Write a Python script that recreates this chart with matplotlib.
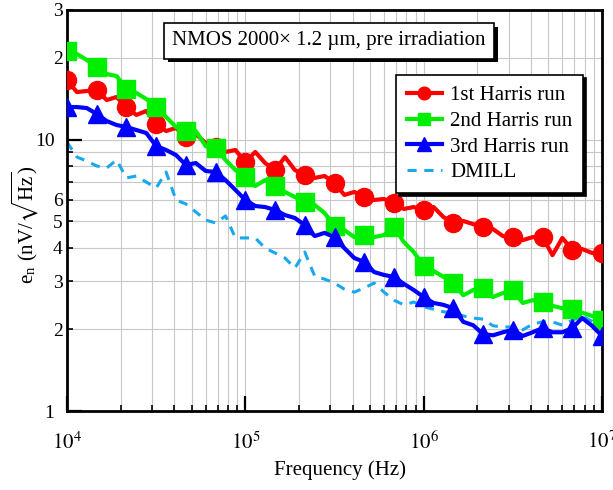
import matplotlib
matplotlib.use('Agg')
import matplotlib.pyplot as plt
from matplotlib.ticker import FixedLocator, FixedFormatter, NullFormatter, LogLocator
import matplotlib.patheffects as pe

plt.rcParams['font.family'] = ['Liberation Serif', 'DejaVu Serif']
plt.rcParams['mathtext.fontset'] = 'stix'

# frequency grid: 18 points per decade, 10 kHz .. 10 MHz
mantissa = [1.0, 1.1365, 1.2915, 1.4678, 1.6681, 1.8957, 2.1544, 2.4484, 2.7826,
            3.1623, 3.5938, 4.0842, 4.6416, 5.2749, 5.9948, 6.8129, 7.7426, 8.7992]
decades = [1e4, 1e5, 1e6]
freq = [m * d for d in decades for m in mantissa] + [1e7]

run1 = [16.57, 14.96, 15.09, 15.22, 13.98, 14.34, 13.17, 12.32, 12.74,
        11.41, 10.75, 11.03, 10.22, 10.48, 9.71, 9.38, 9.00, 9.15,
        8.26, 9.00, 8.19, 7.72, 8.62, 7.72, 7.40, 7.22, 7.34,
        6.92, 6.25, 6.41, 6.14, 5.99, 6.04, 5.84, 5.55, 5.64,
        5.50, 5.64, 5.18, 4.93, 5.01, 4.88, 4.76, 4.68, 4.41,
        4.37, 4.26, 4.37, 4.37, 3.75, 4.34, 3.92, 3.95, 3.82, 3.82]

run2 = [21.18, 20.65, 19.63, 18.50, 17.43, 17.14, 15.35, 14.84, 14.10,
        13.17, 12.11, 11.12, 10.75, 10.75, 9.46, 9.30, 8.41, 7.72,
        7.28, 6.74, 7.09, 6.74, 6.41, 6.14, 5.89, 5.74, 5.36,
        4.80, 4.64, 4.37, 4.45, 4.37, 4.45, 4.76, 4.19, 3.85,
        3.42, 3.28, 3.12, 2.96, 2.67, 2.79, 2.84, 2.63, 2.72,
        2.79, 2.50, 2.56, 2.52, 2.44, 2.39, 2.37, 2.30, 2.24, 2.16]

run3 = [13.17, 13.17, 13.06, 12.42, 11.70, 11.31, 11.12, 10.84, 10.57,
        9.46, 9.15, 8.77, 8.06, 8.19, 7.66, 7.59, 7.09, 6.52,
        5.99, 5.69, 5.64, 5.50, 5.27, 5.14, 4.84, 4.41, 4.53,
        4.37, 3.98, 3.66, 3.54, 3.25, 3.17, 3.12, 2.94, 2.79,
        2.63, 2.50, 2.46, 2.39, 2.13, 2.07, 1.92, 1.90, 1.95,
        1.99, 1.89, 1.95, 2.02, 1.95, 1.95, 2.02, 2.20, 2.06, 1.89]

dmill = [9.79, 8.62, 8.33, 7.99, 7.85, 8.41, 7.22, 7.34, 6.97, 6.63,
         7.59, 5.99, 5.79, 5.41, 5.05, 4.93, 5.23, 4.34, 4.34, 4.34,
         3.98, 3.82, 3.66, 3.36, 3.85, 3.14, 3.06, 2.96, 2.81, 2.74,
         2.84, 2.96, 2.74, 2.56, 2.46, 2.52, 2.42, 2.37, 2.32, 2.30,
         2.24, 2.20, 2.18, 2.06, 2.04, 2.04, 1.99, 2.09, 2.13, 2.13,
         2.07, 2.16, 2.24, 2.14, 1.99]

series_labels = ['1st Harris run', '2nd Harris run', '3rd Harris run', 'DMILL']
x_major = [1e4, 1e5, 1e6, 1e7]
x_major_labels = ['$10^{4}$', '$10^{5}$', '$10^{6}$', '$10^{7}$']
y_major = [1, 10]
y_major_labels = ['1', '10']
y_minor = [2, 3, 4, 5, 6, 7, 8, 9, 20, 30]
y_minor_labels = ['2', '3', '4', '5', '6', '', '', '', '2', '3']

fig = plt.figure(figsize=(6.13, 4.9), dpi=100)
ax = fig.add_axes([67 / 613, 1 - 411 / 490, 535 / 613, 401 / 490])

ax.plot(freq, run1, color='#ff0000', lw=3, marker='o', ms=13, markevery=3,
        label=series_labels[0], zorder=3)
ax.plot(freq, run2, color='#00ee00', lw=3, marker='s', ms=12.5, markevery=3,
        label=series_labels[1], zorder=4)
ax.plot(freq, run3, color='#0000ff', lw=3, marker='^', ms=13.5, markevery=3,
        label=series_labels[2], zorder=5)
ax.plot(freq, dmill, color='#18a8f0', lw=2.2, ls=(0, (3, 2.5)),
        label=series_labels[3], zorder=2)

ax.set_xscale('log')
ax.set_yscale('log')
ax.set_xlim(1e4, 1e7)
ax.set_ylim(1, 30)

ax.xaxis.set_major_locator(FixedLocator(x_major))
ax.xaxis.set_major_formatter(FixedFormatter(x_major_labels))
ax.xaxis.set_minor_locator(LogLocator(base=10, subs=[2, 3, 4, 5, 6, 7, 8, 9]))
ax.xaxis.set_minor_formatter(NullFormatter())
ax.yaxis.set_major_locator(FixedLocator(y_major))
ax.yaxis.set_major_formatter(FixedFormatter(y_major_labels))
ax.yaxis.set_minor_locator(FixedLocator(y_minor))
ax.yaxis.set_minor_formatter(FixedFormatter(y_minor_labels))

ax.tick_params(which='both', direction='in', top=False, right=False, colors='black')
ax.tick_params(axis='y', which='major', length=11, width=1.6, pad=9, labelsize=14)
ax.tick_params(axis='y', which='minor', length=4.5, width=1.2, pad=3, labelsize=14)
ax.tick_params(axis='x', which='major', length=11, width=1.6, pad=15, labelsize=15)
ax.tick_params(axis='x', which='minor', length=4.5, width=1.2)

ax.grid(which='both', color='#c8c8c8', lw=0.8)
ax.set_axisbelow(True)
for s in ax.spines.values():
    s.set_linewidth(2.0)
    s.set_color('black')

fig.text(340 / 613, 1 - 470 / 490, 'Frequency (Hz)', ha='center', va='center', fontsize=15)
fig.text(25 / 613, 1 - 225 / 490, r'e$_\mathregular{n}$ (nV/$\sqrt{\mathregular{Hz}}$)',
         ha='center', va='center', rotation=90, fontsize=15)

title = 'NMOS 2000\u00d7 1.2 \u00b5m, pre irradiation'
t = ax.text(0.49, 0.923, title, transform=ax.transAxes, ha='center', va='center', fontsize=15,
            color='black', bbox=dict(boxstyle='square,pad=0.4', fc='white', ec='black', lw=1.2),
            zorder=7)
t.get_bbox_patch().set_path_effects([
    pe.SimplePatchShadow(offset=(2.5, -2.5), shadow_rgbFace='black', alpha=1.0),
    pe.Normal()])

leg = ax.legend(loc='upper right', bbox_to_anchor=(0.9645, 0.838), borderaxespad=0,
                fontsize=15, frameon=True, fancybox=False, edgecolor='black', framealpha=1,
                shadow={'color': 'black', 'alpha': 1}, handlelength=1.7, handletextpad=0.4,
                labelspacing=0.3, markerscale=0.7, borderpad=0.5)
leg.get_frame().set_linewidth(1.2)
leg.set_zorder(8)

fig.savefig('out.png', dpi=100)
